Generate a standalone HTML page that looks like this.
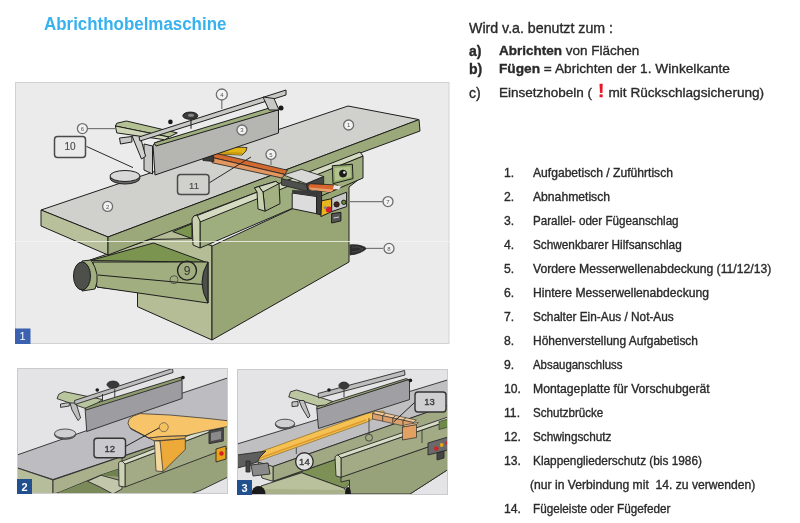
<!DOCTYPE html>
<html><head><meta charset="utf-8">
<style>
*{margin:0;padding:0;box-sizing:border-box}
html,body{width:800px;height:523px;background:#fff;overflow:hidden;position:relative;font-family:"Liberation Sans",sans-serif;color:#2a2a2a}
.t{-webkit-text-stroke:0.35px #2a2a2a}
.title{-webkit-text-stroke:0}
.t{position:absolute;white-space:nowrap;line-height:1}
.title{left:43.5px;top:15px;font-size:18px;font-weight:bold;color:#38b2ee;transform:scaleX(0.94);transform-origin:0 0}
.r{font-size:14px}
.r2{font-size:13.5px}
.li{font-size:12.2px}
.num{position:absolute;left:504px}
.txt{position:absolute;left:533px}
svg{position:absolute;left:0;top:0}
</style></head><body style="filter:blur(0.35px)">
<div class="t title">Abrichthobelmaschine</div>
<div class="t r" style="left:469px;top:21px;font-size:14.2px">Wird v.a. benutzt zum :</div>
<div class="t r" style="left:469px;top:44px"><b>a)</b></div><div class="t r2" style="left:499px;top:44px"><b>Abrichten</b> von Flächen</div>
<div class="t r" style="left:469px;top:62px"><b>b)</b></div><div class="t r2" style="left:499px;top:62px;font-size:13.7px"><b>Fügen</b> = Abrichten der 1. Winkelkante</div>
<div class="t r" style="left:469px;top:86px">c)</div><div class="t r2" style="left:499px;top:86px">Einsetzhobeln (</div><div class="t r2" style="left:608.5px;top:86px;font-size:13.6px">mit Rückschlagsicherung)</div><div class="t" style="left:598px;top:81px;font-size:19px;font-weight:bold;color:#e81828;-webkit-text-stroke:0.3px #e81828">!</div>

<div class="t li num" style="top:167px">1.</div><div class="t li txt" style="top:167px;transform:scaleX(0.993);transform-origin:0 0">Aufgabetisch / Zuführtisch</div>
<div class="t li num" style="top:191px">2.</div><div class="t li txt" style="top:191px;transform:scaleX(0.997);transform-origin:0 0">Abnahmetisch</div>
<div class="t li num" style="top:215px">3.</div><div class="t li txt" style="top:215px;transform:scaleX(0.955);transform-origin:0 0">Parallel- oder Fügeanschlag</div>
<div class="t li num" style="top:239px">4.</div><div class="t li txt" style="top:239px;transform:scaleX(0.967);transform-origin:0 0">Schwenkbarer Hilfsanschlag</div>
<div class="t li num" style="top:263px">5.</div><div class="t li txt" style="top:263px;transform:scaleX(1.000);transform-origin:0 0">Vordere Messerwellenabdeckung (11/12/13)</div>
<div class="t li num" style="top:287px">6.</div><div class="t li txt" style="top:287px;transform:scaleX(0.995);transform-origin:0 0">Hintere Messerwellenabdeckung</div>
<div class="t li num" style="top:311px">7.</div><div class="t li txt" style="top:311px;transform:scaleX(0.971);transform-origin:0 0">Schalter Ein-Aus / Not-Aus</div>
<div class="t li num" style="top:335px">8.</div><div class="t li txt" style="top:335px;transform:scaleX(0.982);transform-origin:0 0">Höhenverstellung Aufgabetisch</div>
<div class="t li num" style="top:359px">9.</div><div class="t li txt" style="top:359px;transform:scaleX(0.937);transform-origin:0 0">Absauganschluss</div>
<div class="t li num" style="top:383px">10.</div><div class="t li txt" style="top:383px;transform:scaleX(0.999);transform-origin:0 0">Montageplatte für Vorschubgerät</div>
<div class="t li num" style="top:407px">11.</div><div class="t li txt" style="top:407px;transform:scaleX(0.952);transform-origin:0 0">Schutzbrücke</div>
<div class="t li num" style="top:431px">12.</div><div class="t li txt" style="top:431px;transform:scaleX(0.965);transform-origin:0 0">Schwingschutz</div>
<div class="t li num" style="top:455px">13.</div><div class="t li txt" style="top:455px;transform:scaleX(0.970);transform-origin:0 0">Klappengliederschutz (bis 1986)</div>
<div class="t li" style="left:530px;top:479px;transform:scaleX(0.996);transform-origin:0 0">(nur in Verbindung mit&nbsp; 14. zu verwenden)</div>
<div class="t li num" style="top:503px">14.</div><div class="t li txt" style="top:503px;transform:scaleX(0.961);transform-origin:0 0">Fügeleiste oder Fügefeder</div>

<svg width="800" height="523" viewBox="0 0 800 523">
<!-- frame 1 -->
<rect x="15.5" y="82.5" width="433.5" height="261" fill="#ebebeb" stroke="#d2d2d2"/>
<g stroke="#1e1e1e" stroke-width="1" stroke-linejoin="round">
<!-- underside filler -->
<polygon points="108,255 192,223 212,240 212,340 137.5,306.7 137.5,292 97,287 90,260" fill="#b5bd97" stroke="none"/>
<!-- body left face -->
<polygon points="150,239.5 192,238.6 212,246 212,340 137.5,306.7 137.5,292 97,287 90,260" fill="#b5bd97"/>
<!-- body front face -->
<polygon points="212,246 363,176 349,187 349,262 212,340" fill="#98a575"/>
<!-- dark triangles under table -->
<polygon points="90.5,260.5 153.5,243 206,262.25" fill="#7b9450"/>
<polygon points="172.75,231.6 192,223.75 192,238.6" fill="#7b9450"/>
<!-- dust duct -->
<polygon points="93,262 208,262 208,303 97,287" fill="#a1ae7f"/>
<line x1="98" y1="275" x2="208" y2="285"/>
<path d="M82,261 L91,260 Q101,275 95,289 L82,291 Z" fill="#a1ae7f"/>
<ellipse cx="82" cy="276" rx="8.5" ry="14" fill="#4d4f4a"/>
<path d="M208,262 Q196,282 208,303 Z" fill="#4d4f4a"/>
<!-- table top -->
<polygon points="41,210 348,106 419,119.6 108,237" fill="#d0d1cc"/>
<polygon points="41,210 108,237 108,255 41,226" fill="#b8c09b"/>
<polygon points="108,237 419,119.6 420,131 363,152 194,216 192,223 108,255" fill="#9ba97a"/>
<!-- rail -->
<polygon points="200,221 363,156 363,178 200,248" fill="#9fae7e"/>
<polygon points="196,216 360,152 363,156 200,222" fill="#d4dbc0"/>
<path d="M192,219 Q193,215 197,215 L200,221 L200,248 L193,245 Z" fill="#c9d0ae"/>
<!-- block on rail -->
<polygon points="254.5,187.8 275.7,181.4 279,183.6 280,203.7 265,211.2 263,192" fill="#a3b082"/>
<polygon points="254.5,187.8 259,186.5 263,192 265,211.2 258,209 257,192" fill="#c9d0ae"/>
<polygon points="259,186.5 275.7,181.4 279,183.6 263,192" fill="#d0d6bc"/>
<!-- knob panel on rail -->
<polygon points="332.3,165.7 352.4,164.3 353,178.6 333,183.7" fill="#8fa86a"/>
<polygon points="334.5,168 350.5,166.5 351,177 335,181" fill="#b3c38e" stroke="none"/>
<circle cx="343" cy="173.6" r="3.5" fill="#1a1a1a"/>
<circle cx="344.3" cy="172.5" r="1.2" fill="#eee" stroke="none"/>
<!-- white box below control box -->
<polygon points="292.2,193 316.6,196.5 316.6,213.7 292.2,208.7" fill="#dcdcdc"/>
<polygon points="316.6,190.8 321.6,190.8 321.6,215.2 316.6,213.7" fill="#3e3e3e"/>
<!-- button panel -->
<polygon points="331.6,198 346.6,192.2 346.6,206.6 331.6,211.6" fill="#c8c8c8"/>
<polygon points="321.6,200.8 331.6,198.7 331.6,211.6 320.9,216.6" fill="#e8b61e"/>
<circle cx="328.7" cy="209.4" r="3" fill="#d4202a" stroke="none"/>
<circle cx="325.2" cy="207.5" r="1.6" fill="#888" stroke="none"/>
<circle cx="336.6" cy="204.4" r="2.6" fill="#4a2020"/>
<circle cx="343.8" cy="202.3" r="2.2" fill="#6a8a3a"/>
<polygon points="331.6,213.7 340.9,212.3 340.9,220.9 331.6,223" fill="#555"/>
<line x1="333.5" y1="218" x2="339" y2="217" stroke="#ccc" stroke-width="1.2"/>
</g>
<!-- orange guard bar -->
<g stroke="#1e1e1e" stroke-width="0.8" stroke-linejoin="round">
<polygon points="213,152.6 287.4,170.2 285,174.5 212,157.5" fill="#d26a30"/>
<polygon points="212,157.5 285,174.5 282,178 212,162.7" fill="#e49660"/>
<polygon points="202,153.5 206,151.5 213,152 214,161.5 203,160.5" fill="#3a3a3a"/>

<polygon points="217,149.5 223,146.5 247,147.5 246,151 242,155 219,154" fill="#e2b414"/>
<polygon points="219,152 242,152.5 242,155 219,154" fill="#c99a10" stroke="none"/>
<!-- control box -->
<polygon points="283.6,175 301.5,169.3 323.7,176.5 306.5,183.7" fill="#d8d8d6"/>
<polygon points="281.5,178.6 306.5,184.4 308,191.5 281.5,185" fill="#4e504e"/>
<polygon points="306.5,183.7 323.7,176.5 323.7,183.7 308,191.5" fill="#444644"/>
<polygon points="292,190 321.6,191 316.6,196.5 292.2,193" fill="#3a3a3a" stroke="none"/>
<path d="M310,183.7 L337.3,185 Q340,188.5 330,192.2 L309.4,189.4 Q306,186.5 310,183.7 Z" fill="#d9662c"/>
<path d="M309.4,187.5 L333,189.5 Q334,191 330,192.2 L309.4,189.4 Z" fill="#e8a06e" stroke="none"/>
<polygon points="334,185 341,186.5 339,189.5 333,189" fill="#e8e8e8" stroke="none"/>
</g>
<!-- fence -->
<g stroke="#1e1e1e" stroke-width="1" stroke-linejoin="round">
<polygon points="144,144 152.5,146 152.5,174 144,170" fill="#c8c8c6"/>
<polygon points="131.9,135.6 140,135.6 145.6,156.25 141.5,159" fill="#d0d0ce"/>
<polygon points="153,145 157,142 278.5,109.7 278.5,133 155,175" fill="#b5b6b2"/>
<polygon points="154,143 271,107.5 278,110 156,146" fill="#9fae7e"/>
<polygon points="116.75,123.25 126.4,121 177.3,132.9 169,137 115.4,126" fill="#b4c194"/>
<polygon points="115.4,126 169,137 164.9,139.75 116.75,132.9" fill="#cfd6b8"/>
<polygon points="119.5,138 131.9,136.5 131.9,142 120.5,144" fill="#c8c8c6"/>
<polygon points="139,137 286,90 286,95 140,141" fill="#c8c8c5"/>
<polygon points="263,97 274,98.5 279,110 269,110" fill="#c8c8c5"/>
<line x1="191" y1="119" x2="191" y2="128.75"/>
<ellipse cx="190.3" cy="115.7" rx="7.5" ry="3.6" fill="#3a3a3a"/>
<ellipse cx="191" cy="115.2" rx="3" ry="1.5" fill="#888" stroke="none"/>
</g>
<circle cx="170.4" cy="121.9" r="2.3" fill="#1a1a1a"/>
<circle cx="281" cy="108" r="2.5" fill="#1a1a1a"/>
<!-- disc (montage plate) -->
<g stroke="#1e1e1e" stroke-width="1">
<ellipse cx="125" cy="178" rx="15" ry="6" fill="#6a6a6a"/>
<ellipse cx="125" cy="176" rx="15" ry="5.5" fill="#d8d8d8"/>
</g>
<!-- handwheel -->
<path d="M349.5,244.5 Q361,243.5 367,248.5 Q361,254.5 349.5,255.5 Z" fill="#2e2e2e"/>
<path d="M352,247 Q359,246 363,249 Q358,252 352,252" fill="none" stroke="#555" stroke-width="0.7"/>
<!-- white seam -->
<line x1="15" y1="241.5" x2="450" y2="241.5" stroke="#f4f4f0" stroke-width="1" opacity="0.8"/>
<!-- callouts -->
<g stroke="#2a2a2a" stroke-width="1" fill="none">
<line x1="86.4" y1="146.4" x2="133" y2="167.6"/>
<line x1="209" y1="183" x2="251" y2="157"/>
<line x1="87.5" y1="128.6" x2="115" y2="128.6" stroke="#777" stroke-width="1.2"/>
<line x1="221.8" y1="100" x2="221.8" y2="109" stroke="#777" stroke-width="1.2"/>
<line x1="271" y1="159.5" x2="271" y2="165" stroke="#777" stroke-width="1.2"/>
<line x1="348" y1="201.7" x2="383" y2="201.7" stroke="#777" stroke-width="1.2"/>
<line x1="366.7" y1="248.4" x2="383" y2="248.4" stroke="#777" stroke-width="1.2"/>
</g>
<g stroke="#4a4a4a" stroke-width="1.5">
<rect x="54.5" y="136.5" width="31" height="21" rx="3" fill="#eaeaea"/>
<rect x="177.5" y="174.5" width="31.5" height="20" rx="3" fill="#d0d1cc"/>
</g>
<text x="70" y="150" font-size="10" text-anchor="middle" fill="#4a4a4a" stroke="#4a4a4a" stroke-width="0.15" font-family="Liberation Sans">10</text>
<text x="194" y="188.5" font-size="9.5" text-anchor="middle" fill="#4a4a4a" stroke="#4a4a4a" stroke-width="0.15" font-family="Liberation Sans">11</text>
<g stroke="#6e6e6e" stroke-width="1.3" fill="#f2f2f2">
<circle cx="82.4" cy="128.6" r="5"/>
<circle cx="221.8" cy="94.5" r="5.5"/>
<circle cx="242" cy="130" r="5"/>
<circle cx="348.6" cy="125" r="5"/>
<circle cx="107.6" cy="206.4" r="5"/>
<circle cx="271" cy="154.4" r="5"/>
<circle cx="388" cy="201.6" r="5"/>
<circle cx="389" cy="248.4" r="5"/>
</g>
<g font-size="6" text-anchor="middle" fill="#555" font-family="Liberation Sans">
<text x="82.4" y="130.8">6</text><text x="221.8" y="96.7">4</text><text x="242" y="132.2">3</text><text x="348.6" y="127.2">1</text>
<text x="107.6" y="208.6">2</text><text x="271" y="156.6">5</text><text x="388" y="203.8">7</text><text x="389" y="250.6">8</text>
</g>
<circle cx="187" cy="270.6" r="9.5" fill="none" stroke="#222" stroke-width="1.4"/>
<text x="187" y="275" font-size="12" text-anchor="middle" fill="#333" font-family="Liberation Sans">9</text>
<circle cx="174" cy="279.7" r="4" fill="none" stroke="#444" stroke-width="0.8"/>
<rect x="15" y="328.5" width="15.5" height="15.5" fill="#3b62b0"/>
<text x="22.5" y="340" font-size="11" fill="#fff" text-anchor="middle" font-family="Liberation Sans">1</text>
<!-- frame 2 -->
<defs>
<clipPath id="c2"><rect x="17" y="368" width="210.5" height="126"/></clipPath>
<clipPath id="c3"><rect x="237" y="369" width="210.5" height="126"/></clipPath>
</defs>
<rect x="17" y="368" width="211" height="126" fill="#e4e4e7"/>
<g clip-path="url(#c2)" stroke="#2a2a2a" stroke-width="0.9" stroke-linejoin="round">
<!-- machine front green -->
<polygon points="53,480 228,420.8 228,477 200,490.6 190,494 53,494" fill="#98a27a"/>
<!-- table top -->
<polygon points="10,457.5 87,430.5 182.6,393 228,377.8 228,420.8 53,479.5 10,465.5" fill="#bdbcc0"/>
<polygon points="10,465.5 53,480 53,494 10,494" fill="#b6bd9a"/>
<polygon points="53,480 122,456.5 122,468 102.5,474.5 59,492.5 53,494" fill="#a9b08b"/>
<!-- under table dark -->
<polygon points="102.5,474.5 122,468 122,477 101,475.25" fill="#6f8250" stroke="none"/>
<polygon points="59,492.5 87.5,481.25 100,487 113,494 59,494" fill="#7a8a58" stroke="none"/>
<polygon points="87.5,481.25 101,475.25 122,481 122,489 113,494 100,487" fill="#c2c7ab"/>
<!-- rail -->
<polygon points="125,464 228,425 228,448 125,487" fill="#a2ab85"/>
<polygon points="121,461.7 228,420 228,425 125,464" fill="#d9ddc6"/>
<path d="M118.6,463 Q119,461 122,461 L125,464 L125,487 L119,486 Z" fill="#ccd2b4"/>
<!-- control plate -->
<polygon points="209,430.8 223.3,428 223.3,441 209,443.7" fill="#4a4a4a"/>
<polygon points="211,433 221,431 221,439 211,441" fill="#8a8a8a" stroke="none"/>
<polygon points="216,449 226,446 226,459 216,462" fill="#e8a51c"/>
<circle cx="221.5" cy="453.5" r="2.2" fill="#d42020" stroke="none"/>
<!-- fence -->
<polygon points="85,407.4 181.25,377.6 182.1,380 182.1,398.5 86.75,431.5" fill="#9d9ca0"/>
<polygon points="85,406.5 181.25,377 181.5,380 86,410" fill="#8f9c70"/>
<polygon points="58.75,394.25 64,391.6 102.5,399.5 97.25,403 85,408.25 57,398.6" fill="#b9c59c"/>
<polygon points="60.5,404 69.25,402.5 69.25,406 60.5,407.4" fill="#c8c8c6"/>
<polygon points="70,403 76,403 80.6,418 78,420.5 72,410" fill="#c0c0c0"/>
<polygon points="74.5,400.5 172.5,368.5 173,372.5 75,404.5" fill="#bdbdbd"/>
<line x1="102.5" y1="394" x2="102.5" y2="401"/><line x1="114.75" y1="389" x2="114.75" y2="397"/>
<ellipse cx="113" cy="384.6" rx="6" ry="3.5" fill="#3a3a3a"/>
</g>
<circle cx="97.25" cy="390" r="1.8" fill="#1a1a1a"/>
<circle cx="183" cy="377.6" r="1.8" fill="#1a1a1a"/>
<ellipse cx="65.1" cy="434.5" rx="10.6" ry="4.8" fill="#7a7a7a" stroke="#333" stroke-width="0.8"/><ellipse cx="65.1" cy="433.5" rx="10.6" ry="4.5" fill="#d0d0d2" stroke="#333" stroke-width="0.8"/>
<!-- swing guard -->
<g clip-path="url(#c2)" stroke="#3a3a3a" stroke-width="0.8" stroke-linejoin="round">
<path d="M130,428 Q123,418 140,413.6 L170,415 L209,418.6 L228,420.8 L228,426.5 L206,430.8 L186,435.8 L163,436.5 L148.7,438 Z" fill="#f7c46a"/>
<polygon points="130,428 148.7,438 163,436.5 186,435.8 184.6,438.7 154.4,440.9 131.5,429.4" fill="#eab458"/>
<polygon points="158,441 185.3,438.7 185.3,449.5 163,471.5 158,470" fill="#eeaa38"/>
<polygon points="154.4,440.9 160,441 163,471.5 156,471" fill="#f4d79a"/>
</g>
<line x1="125.2" y1="446.6" x2="161.6" y2="426.5" stroke="#222" stroke-width="1"/>
<circle cx="163.75" cy="427.2" r="4.5" fill="#f5c060" stroke="#555" stroke-width="0.7"/>
<rect x="94" y="438.2" width="31.5" height="19.6" rx="3" fill="#cac9cd" stroke="#333" stroke-width="1.4"/>
<text x="109.8" y="451.5" font-size="9.5" text-anchor="middle" fill="#3a3a3a" stroke="#3a3a3a" stroke-width="0.35" font-family="Liberation Sans">12</text>
<rect x="17.5" y="368.5" width="210" height="125" fill="none" stroke="#cbcbcd"/>
<rect x="17" y="479" width="15" height="15" fill="#22508f"/>
<text x="24.5" y="491" font-size="11" fill="#fff" text-anchor="middle" font-family="Liberation Sans" font-weight="bold">2</text>
<!-- frame 3 -->
<rect x="237" y="369" width="211" height="126" fill="#e4e4e7"/>
<g clip-path="url(#c3)" stroke="#2a2a2a" stroke-width="0.9" stroke-linejoin="round">
<!-- body / under surfaces -->
<polygon points="273,481.3 448,420 448,469.5 410,494 349.5,494 349.5,484 345,488.5 301.5,472.75" fill="#7d9055"/>
<polygon points="261,486 301.5,472.75 345,488.5 345,494 261,494" fill="#b9c09c"/>
<polygon points="263,489 345,490 345,494 263,494" fill="#a8b08a" stroke="none"/>
<polygon points="341,477 448,440 448,469.5 410,494 349.5,494 349.5,480 341,482" fill="#98a27a"/>
<!-- table top -->
<polygon points="230,446.2 448,379.8 448,405 273,466.5 262,468 230,460" fill="#bfbfc1"/>
<!-- table front face -->
<polygon points="273,466.5 448,405 448,420 273,481.3" fill="#a0a884"/>
<polygon points="258,462 273,466.5 273,481.3 262,478" fill="#b9c09e"/>
<!-- yellow strip -->
<path d="M262.25,451.1 L362,415.25 Q370,411.8 384,411 L384,416 Q374,417 367,422 L257,461.5 Z" fill="#f4c152" stroke="#8a6a20" stroke-width="0.7"/>
<path d="M258.5,458.5 L366,420" fill="none" stroke="#e09a30" stroke-width="1.6"/>
<!-- dark bracket -->
<polygon points="230,456 266,451 260,457 257.7,461.7 245,466 230,470" fill="#5e5e5e"/>
<polygon points="251,465 268,463 270,474 253,476" fill="#8a8a8a"/>
<polygon points="246,461 250,461 250,472 246,472" fill="#444"/>
<!-- rail -->
<polygon points="341,458 448,421 448,440 341,477.3" fill="#a2ab85"/>
<polygon points="337.6,455 448,417 448,421 341,458" fill="#d9ddc6"/>
<path d="M335,457 Q336,455 338,455 L341,458 L341,477.3 L336,476 Z" fill="#ccd2b4"/>
<line x1="422" y1="430" x2="422" y2="443" stroke-width="0.8"/>
<polygon points="439,421.5 448,419 448,427 439,429.6" fill="#6d8a4a" stroke-width="0.6"/>
<!-- control panel -->
<polygon points="428,443 448,437 448,450 428,455" fill="#6a6a6a"/>
<circle cx="436.3" cy="448.5" r="2.2" fill="#d42020" stroke="none"/>
<circle cx="441.7" cy="445" r="1.9" fill="#e8a51c" stroke="none"/>
<circle cx="447" cy="443" r="1.8" fill="#d42020" stroke="none"/>
<polygon points="437,453 444,451 444,458 437,460" fill="#444"/>
<!-- shadow bottom -->
<ellipse cx="258.5" cy="494" rx="7" ry="8" fill="#1a1a1a" stroke="none"/>
<ellipse cx="348" cy="494" rx="3" ry="7" fill="#1a1a1a" stroke="none"/>
<!-- fence -->
<polygon points="316.75,408.4 408.6,379.5 409.5,381 409.5,399.6 318.5,428.5" fill="#a09fa3"/>
<polygon points="316.75,406.6 406,378.6 408.6,379.5 317,409" fill="#9aa77a"/>
<polygon points="290.5,391.75 296.6,390 332.5,401.4 325.5,405 317.6,405.75 288.75,397" fill="#bcc6a0"/>
<polygon points="292,402 298,401.4 298,406 292,406.6" fill="#c8c8c6"/>
<polygon points="299,400.5 304,400.5 310,416 308,418 302,408" fill="#c0c0c0"/>
<polygon points="318,393.5 404.5,370.5 405,375 318.5,398" fill="#bdbdbd"/>
<line x1="344" y1="386" x2="344" y2="397"/>
<ellipse cx="343.9" cy="385.6" rx="5" ry="3.5" fill="#3a3a3a"/>
<!-- klappen segments -->
<polygon points="372.5,413.5 375.5,411.0 385.7,413.2 382.7,415.8" fill="#f0c898" stroke-width="0.6"/>
<polygon points="372.5,413.5 382.7,415.8 382.7,421.2 372.5,419.0" fill="#dca06c" stroke-width="0.6"/>
<polygon points="382.7,415.8 385.7,413.2 395.9,415.5 392.9,418.0" fill="#f0c898" stroke-width="0.6"/>
<polygon points="382.7,415.8 392.9,418.0 392.9,423.5 382.7,421.2" fill="#dca06c" stroke-width="0.6"/>
<polygon points="392.9,418.0 395.9,415.5 406.1,417.8 403.1,420.2" fill="#f0c898" stroke-width="0.6"/>
<polygon points="392.9,418.0 403.1,420.2 403.1,425.8 392.9,423.5" fill="#dca06c" stroke-width="0.6"/>
<polygon points="403.1,420.2 406.1,417.8 416.3,420.0 413.3,422.5" fill="#f0c898" stroke-width="0.6"/>
<polygon points="403.1,420.2 413.3,422.5 413.3,428.0 403.1,425.8" fill="#dca06c" stroke-width="0.6"/>
<polygon points="402.5,427 416.5,424.5 416.5,437.5 402.5,440" fill="#e2a062" stroke-width="0.7"/>
<polygon points="402.5,427 405,424.8 418.5,422.5 416.5,424.5" fill="#f0c898" stroke-width="0.6"/>
</g>
<ellipse cx="285" cy="424.5" rx="9.6" ry="4.5" fill="#7a7a7a" stroke="#333" stroke-width="0.8"/><ellipse cx="285" cy="423.5" rx="9.6" ry="4.3" fill="#cfcfd1" stroke="#333" stroke-width="0.8"/>
<circle cx="329" cy="390" r="1.8" fill="#1a1a1a"/>
<circle cx="410.4" cy="380.4" r="1.8" fill="#1a1a1a"/>
<line x1="369" y1="418" x2="369" y2="434" stroke="#333" stroke-width="0.8"/>
<circle cx="369" cy="437.7" r="3.5" fill="none" stroke="#333" stroke-width="0.8"/>
<line x1="296.3" y1="447.6" x2="296.3" y2="454" stroke="#333" stroke-width="0.8"/>
<circle cx="304.4" cy="461.6" r="8.8" fill="#e2e2e2" stroke="#333" stroke-width="1.4"/>
<text x="304.4" y="465" font-size="9.5" text-anchor="middle" fill="#3a3a3a" stroke="#3a3a3a" stroke-width="0.35" font-family="Liberation Sans">14</text>
<line x1="414.6" y1="402.5" x2="394" y2="421.6" stroke="#222" stroke-width="1"/>
<rect x="415" y="392" width="31" height="20" rx="3" fill="#cfcfd1" stroke="#333" stroke-width="1.4"/>
<text x="429.6" y="405" font-size="9.5" text-anchor="middle" fill="#3a3a3a" stroke="#3a3a3a" stroke-width="0.35" font-family="Liberation Sans">13</text>
<rect x="237.5" y="369.5" width="210" height="125" fill="none" stroke="#cbcbcd"/>
<rect x="237" y="480" width="15" height="15" fill="#22508f"/>
<text x="244.5" y="492" font-size="11" fill="#fff" text-anchor="middle" font-family="Liberation Sans" font-weight="bold">3</text>
</svg>
</body></html>
